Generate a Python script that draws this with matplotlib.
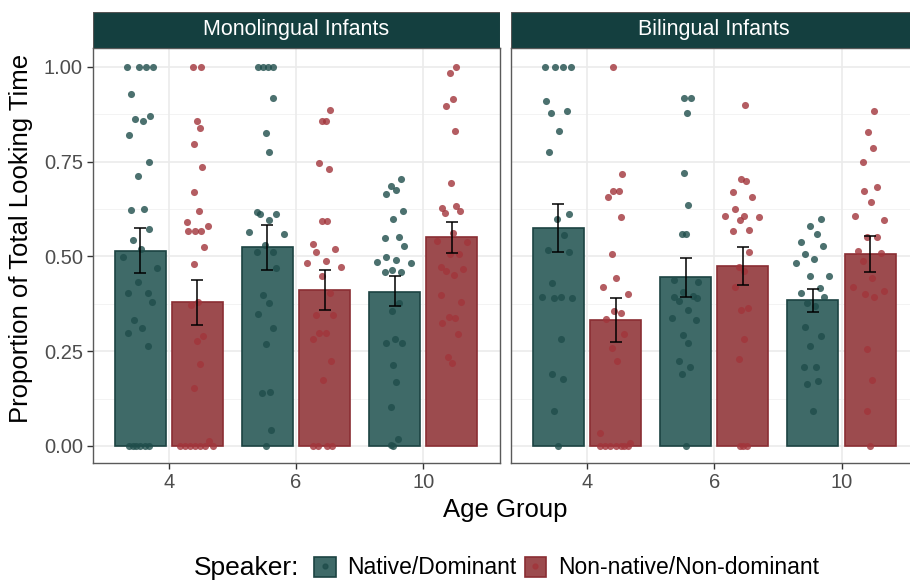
import matplotlib
matplotlib.use("Agg")
import matplotlib.pyplot as plt
from matplotlib.patches import Patch, Rectangle
from matplotlib.lines import Line2D
from matplotlib.legend_handler import HandlerTuple
import numpy as np

plt.rcParams['font.family'] = ['Liberation Sans', 'DejaVu Sans']

# ---------------- data ----------------
age_groups = ["4", "6", "10"]
panels = ["Monolingual Infants", "Bilingual Infants"]
speakers = ["Native/Dominant", "Non-native/Non-dominant"]

# bar means and error-bar limits (order: 4, 6, 10)
mono_native_mean = [0.515, 0.524, 0.407]
mono_native_lo = [0.457, 0.464, 0.368]
mono_native_hi = [0.574, 0.583, 0.449]
mono_nonnative_mean = [0.379, 0.412, 0.551]
mono_nonnative_lo = [0.319, 0.359, 0.508]
mono_nonnative_hi = [0.438, 0.464, 0.592]
bi_native_mean = [0.576, 0.446, 0.385]
bi_native_lo = [0.512, 0.394, 0.354]
bi_native_hi = [0.639, 0.495, 0.415]
bi_nonnative_mean = [0.332, 0.475, 0.507]
bi_nonnative_lo = [0.273, 0.424, 0.459]
bi_nonnative_hi = [0.391, 0.524, 0.554]

# individual infants: values and horizontal jitter
mono_native_4 = [1.0, 1.0, 1.0, 1.0, 0.929, 0.862, 0.858, 0.870, 0.820, 0.748, 0.712, 0.622, 0.626,
                 0.573, 0.544, 0.520, 0.498, 0.469, 0.432, 0.404, 0.404, 0.379, 0.331, 0.311, 0.297,
                 0.265, 0, 0, 0, 0, 0, 0]
mono_native_4_jit = [-0.105, -0.008, 0.047, 0.099, -0.071, -0.039, 0.021, 0.081, -0.089, 0.068, -0.016,
                     -0.073, 0.031, 0.068, -0.060, 0.008, -0.136, 0.131, -0.016, -0.094, 0.058, 0.092,
                     -0.050, 0.013, -0.097, 0.065, -0.09, -0.06, -0.03, 0.0, 0.04, 0.07]
mono_nonnative_4 = [1.0, 1.0, 0.858, 0.838, 0.796, 0.735, 0.669, 0.620, 0.590, 0.581, 0.567, 0.567,
                    0.567, 0.525, 0.480, 0.381, 0.372, 0.290, 0.277, 0.216, 0.154, 0.013,
                    0, 0, 0, 0, 0, 0, 0]
mono_nonnative_4_jit = [-0.038, 0.027, -0.007, 0.020, -0.027, 0.035, -0.025, 0.014, -0.085, 0.082,
                        -0.075, -0.022, 0.030, 0.051, -0.030, 0.007, -0.054, 0.046, -0.007, 0.017,
                        -0.030, 0.090, -0.14, -0.10, -0.06, -0.02, 0.02, 0.06, 0.12]
mono_native_6 = [1.0, 1.0, 1.0, 1.0, 0.917, 0.825, 0.776, 0.618, 0.611, 0.595, 0.611, 0.565, 0.558,
                 0.529, 0.511, 0.511, 0.469, 0.397, 0.376, 0.347, 0.310, 0.270, 0.139, 0.142, 0.042, 0]
mono_native_6_jit = [-0.077, -0.038, 0.001, 0.041, 0.048, -0.007, 0.012, -0.085, -0.056, 0.009, 0.069,
                     -0.142, 0.129, -0.022, -0.085, 0.048, 0.067, -0.033, 0.009, -0.072, 0.048, -0.014,
                     -0.041, 0.017, 0.030, -0.014]
mono_nonnative_6 = [0.887, 0.858, 0.858, 0.746, 0.731, 0.594, 0.594, 0.533, 0.519, 0.511, 0.482, 0.489,
                    0.473, 0.449, 0.403, 0.345, 0.345, 0.297, 0.297, 0.281, 0.224, 0.175, 0, 0, 0, 0]
mono_nonnative_6_jit = [0.043, -0.017, 0.009, -0.041, 0.038, -0.017, 0.022, -0.093, 0.080, -0.067,
                        -0.140, 0.009, 0.127, -0.017, 0.041, -0.067, 0.064, -0.041, 0.014, -0.093,
                        0.051, -0.014, -0.09, -0.05, 0.02, 0.06]
mono_native_10 = [0.705, 0.686, 0.675, 0.666, 0.619, 0.600, 0.548, 0.550, 0.527, 0.498, 0.491, 0.485,
                  0.482, 0.458, 0.464, 0.460, 0.378, 0.356, 0.272, 0.281, 0.272, 0.214, 0.169, 0.102,
                  0.018, 0.003, 0.0]
mono_native_10_jit = [0.051, -0.025, 0.014, -0.069, 0.069, -0.014, -0.077, 0.035, 0.075, -0.064, 0.009,
                      -0.137, 0.129, -0.077, -0.017, 0.051, 0.035, -0.017, -0.064, 0.007, 0.056, -0.009,
                      0.009, -0.025, 0.027, -0.027, -0.012]
mono_nonnative_10 = [1.0, 0.984, 0.916, 0.898, 0.830, 0.694, 0.628, 0.632, 0.614, 0.621, 0.561, 0.542,
                     0.537, 0.506, 0.506, 0.472, 0.461, 0.451, 0.468, 0.398, 0.381, 0.339, 0.337, 0.324,
                     0.296, 0.236, 0.220]
mono_nonnative_10_jit = [0.035, -0.014, 0.009, -0.046, 0.027, -0.007, -0.075, 0.033, -0.054, 0.067,
                         0.007, -0.119, 0.116, -0.012, 0.059, -0.088, -0.048, 0.017, 0.090, -0.082,
                         0.075, -0.025, 0.027, -0.077, 0.046, -0.027, 0.001]

bi_native_4 = [1.0, 1.0, 1.0, 1.0, 0.909, 0.878, 0.883, 0.832, 0.775, 0.611, 0.598, 0.557, 0.516, 0.511,
               0.430, 0.393, 0.390, 0.394, 0.390, 0.281, 0.189, 0.177, 0.093, 0]
bi_native_4_jit = [-0.101, -0.025, 0.038, 0.103, -0.093, -0.056, 0.072, 0.007, -0.069, 0.082, -0.012,
                   0.046, -0.082, 0.085, -0.051, -0.124, -0.035, 0.020, 0.111, 0.022, -0.051, 0.038,
                   -0.030, 0.0]
bi_nonnative_4 = [1.0, 0.718, 0.674, 0.674, 0.657, 0.605, 0.507, 0.443, 0.419, 0.402, 0.356, 0.351,
                  0.334, 0.296, 0.259, 0.225, 0.033, 0.007, 0, 0, 0, 0, 0, 0, 0]
bi_nonnative_4_jit = [-0.017, 0.054, -0.017, 0.025, -0.056, 0.041, -0.025, 0.007, -0.098, 0.098, -0.014,
                      0.046, -0.072, 0.064, -0.030, 0.009, -0.119, 0.116, -0.12, -0.08, -0.04, 0.0,
                      0.04, 0.07, 0.10]
bi_native_6 = [0.917, 0.917, 0.878, 0.719, 0.636, 0.560, 0.560, 0.439, 0.432, 0.406, 0.392, 0.382,
               0.396, 0.390, 0.359, 0.337, 0.331, 0.294, 0.272, 0.224, 0.208, 0.189, 0]
bi_native_6_jit = [-0.016, 0.042, 0.013, -0.016, 0.018, -0.026, 0.005, -0.092, 0.097, -0.018, -0.094,
                   -0.055, 0.055, 0.092, 0.018, -0.107, 0.084, -0.018, 0.018, -0.050, 0.031, -0.026, 0.0]
bi_nonnative_6 = [0.900, 0.705, 0.700, 0.669, 0.657, 0.626, 0.607, 0.608, 0.605, 0.595, 0.568, 0.570,
                  0.511, 0.473, 0.461, 0.419, 0.360, 0.364, 0.281, 0.230, 0, 0, 0]
bi_nonnative_6_jit = [0.014, -0.014, 0.027, -0.080, 0.069, -0.064, -0.142, 0.007, 0.129, -0.020, -0.080,
                      0.048, 0.048, -0.027, 0.007, -0.059, -0.014, 0.043, 0.007, -0.027, -0.02, 0.0, 0.03]
bi_native_10 = [0.599, 0.581, 0.558, 0.537, 0.527, 0.507, 0.492, 0.482, 0.448, 0.449, 0.418, 0.403,
                0.394, 0.378, 0.370, 0.314, 0.289, 0.264, 0.207, 0.208, 0.164, 0.171, 0.093]
bi_native_10_jit = [0.061, -0.020, 0.035, -0.095, 0.080, -0.064, 0.007, -0.135, -0.020, 0.124, 0.056,
                    -0.095, 0.090, -0.048, 0.014, -0.064, 0.061, -0.020, -0.069, 0.025, -0.043, 0.043,
                    0.001]
bi_nonnative_10 = [0.884, 0.828, 0.785, 0.749, 0.672, 0.682, 0.644, 0.607, 0.597, 0.552, 0.551, 0.514,
                   0.508, 0.487, 0.442, 0.419, 0.410, 0.401, 0.394, 0.256, 0.174, 0.093, 0]
bi_nonnative_10_jit = [0.033, -0.014, 0.020, -0.056, -0.051, 0.054, 0.004, -0.122, 0.108, -0.025, 0.051,
                       -0.093, 0.088, -0.059, 0.014, -0.132, 0.106, -0.041, 0.027, -0.027, 0.017,
                       -0.022, -0.004]

# ---------------- style ----------------
native_fill = "#3f6a68"
native_edge = "#1c4342"
native_pt = "#1f4d4b"
nonnative_fill = "#9c4b4e"
nonnative_edge = "#8a2e33"
nonnative_pt = "#a2353b"
strip_col = "#143f3f"
grid_col = "#ebebeb"
border_col = "#5a5a5a"
tick_col = "#4d4d4d"

W, H = 910, 583
fig = plt.figure(figsize=(W / 100, H / 100), dpi=100)

panel_rects = [(92.5, 499.5), (510.5, 918.0)]
p_top, p_bot = 48.0, 463.0
strip_top = 12.0

dodge = 0.225
bar_w = 0.4

panel_data = [
    dict(nm=mono_native_mean, nlo=mono_native_lo, nhi=mono_native_hi,
         cm=mono_nonnative_mean, clo=mono_nonnative_lo, chi=mono_nonnative_hi,
         npts=[(mono_native_4, mono_native_4_jit), (mono_native_6, mono_native_6_jit),
               (mono_native_10, mono_native_10_jit)],
         cpts=[(mono_nonnative_4, mono_nonnative_4_jit), (mono_nonnative_6, mono_nonnative_6_jit),
               (mono_nonnative_10, mono_nonnative_10_jit)]),
    dict(nm=bi_native_mean, nlo=bi_native_lo, nhi=bi_native_hi,
         cm=bi_nonnative_mean, clo=bi_nonnative_lo, chi=bi_nonnative_hi,
         npts=[(bi_native_4, bi_native_4_jit), (bi_native_6, bi_native_6_jit),
               (bi_native_10, bi_native_10_jit)],
         cpts=[(bi_nonnative_4, bi_nonnative_4_jit), (bi_nonnative_6, bi_nonnative_6_jit),
               (bi_nonnative_10, bi_nonnative_10_jit)]),
]

x = np.arange(len(age_groups))
for pi, ((x0, x1), title, d) in enumerate(zip(panel_rects, panels, panel_data)):
    ax = fig.add_axes([x0 / W, 1 - p_bot / H, (x1 - x0) / W, (p_bot - p_top) / H])
    ax.set_xlim(-0.6, 2.6)
    ax.set_ylim(-0.045, 1.05)
    ax.set_facecolor("white")
    # grid
    for yv in [0.125, 0.375, 0.625, 0.875]:
        ax.axhline(yv, color="#f3f3f3", lw=0.7, zorder=0)
    for yv in [0, 0.25, 0.5, 0.75, 1.0]:
        ax.axhline(yv, color=grid_col, lw=1.2, zorder=0)
    for xv in x:
        ax.axvline(xv, color=grid_col, lw=1.2, zorder=0)

    ax.bar(x - dodge, d["nm"], width=bar_w, color=native_fill, edgecolor=native_edge, lw=1.2, zorder=2)
    ax.bar(x + dodge, d["cm"], width=bar_w, color=nonnative_fill, edgecolor=nonnative_edge, lw=1.2, zorder=2)

    for i in range(len(age_groups)):
        vals, jit = d["npts"][i]
        ax.scatter(x[i] - dodge + np.array(jit), vals, s=26, color=native_pt, alpha=0.8, lw=0, zorder=3)
        vals, jit = d["cpts"][i]
        ax.scatter(x[i] + dodge + np.array(jit), vals, s=26, color=nonnative_pt, alpha=0.8, lw=0, zorder=3)

    nm, cm = np.array(d["nm"]), np.array(d["cm"])
    ax.errorbar(x - dodge, nm, yerr=[nm - np.array(d["nlo"]), np.array(d["nhi"]) - nm],
                fmt="none", ecolor="black", elinewidth=1.1, capsize=4, capthick=1.1, zorder=4)
    ax.errorbar(x + dodge, cm, yerr=[cm - np.array(d["clo"]), np.array(d["chi"]) - cm],
                fmt="none", ecolor="black", elinewidth=1.1, capsize=4, capthick=1.1, zorder=4)

    ax.set_xticks(x)
    ax.set_xticklabels(age_groups, fontsize=14.5, color=tick_col)
    ax.set_yticks([0, 0.25, 0.5, 0.75, 1.0])
    if pi == 0:
        ax.set_yticklabels(["0.00", "0.25", "0.50", "0.75", "1.00"], fontsize=14.5, color=tick_col)
        ax.tick_params(axis="y", length=4, width=1, color="#333333", pad=3)
    else:
        ax.tick_params(axis="y", length=0, labelleft=False)
    ax.tick_params(axis="x", length=4, width=1, color="#333333", pad=3)
    for s in ax.spines.values():
        s.set_color(border_col)
        s.set_linewidth(1.0)

    # strip
    sax = fig.add_axes([x0 / W, 1 - p_top / H, (x1 - x0) / W, (p_top - strip_top) / H])
    sax.set_xlim(0, 1)
    sax.set_ylim(0, 1)
    sax.add_patch(Rectangle((0, 0), 1, 1, facecolor=strip_col, edgecolor="#555555", lw=0.8))
    sax.axis("off")
    fig.text(((x0 + x1) / 2) / W, 1 - 30 / H, title, color="white", fontsize=15.5,
             ha="center", va="center")

fig.text(21 / W, 1 - 238 / H, "Proportion of Total Looking Time", rotation=90, fontsize=18.5,
         ha="center", va="center", color="black")
fig.text(505 / W, 1 - 510 / H, "Age Group", fontsize=18.5, ha="center", va="center", color="black")

# legend
fig.text(247 / W, 1 - 568 / H, "Speaker:", fontsize=19, ha="center", va="center")
handles = [
    (Patch(facecolor=native_fill, edgecolor=native_edge, lw=1.2),
     Line2D([], [], marker="o", ls="none", color=native_pt, ms=3.5, alpha=0.8)),
    (Patch(facecolor=nonnative_fill, edgecolor=nonnative_edge, lw=1.2),
     Line2D([], [], marker="o", ls="none", color=nonnative_pt, ms=3.5, alpha=0.8)),
]
leg = fig.legend(handles, speakers, loc="center left", bbox_to_anchor=(314 / W, 1 - 568 / H),
                 ncol=2, frameon=False, fontsize=16.5, handler_map={tuple: HandlerTuple(ndivide=1)},
                 handlelength=0.95, handleheight=0.95, handletextpad=0.5, columnspacing=0.35,
                 borderpad=0, borderaxespad=0)

fig.savefig("out.png", dpi=100)
